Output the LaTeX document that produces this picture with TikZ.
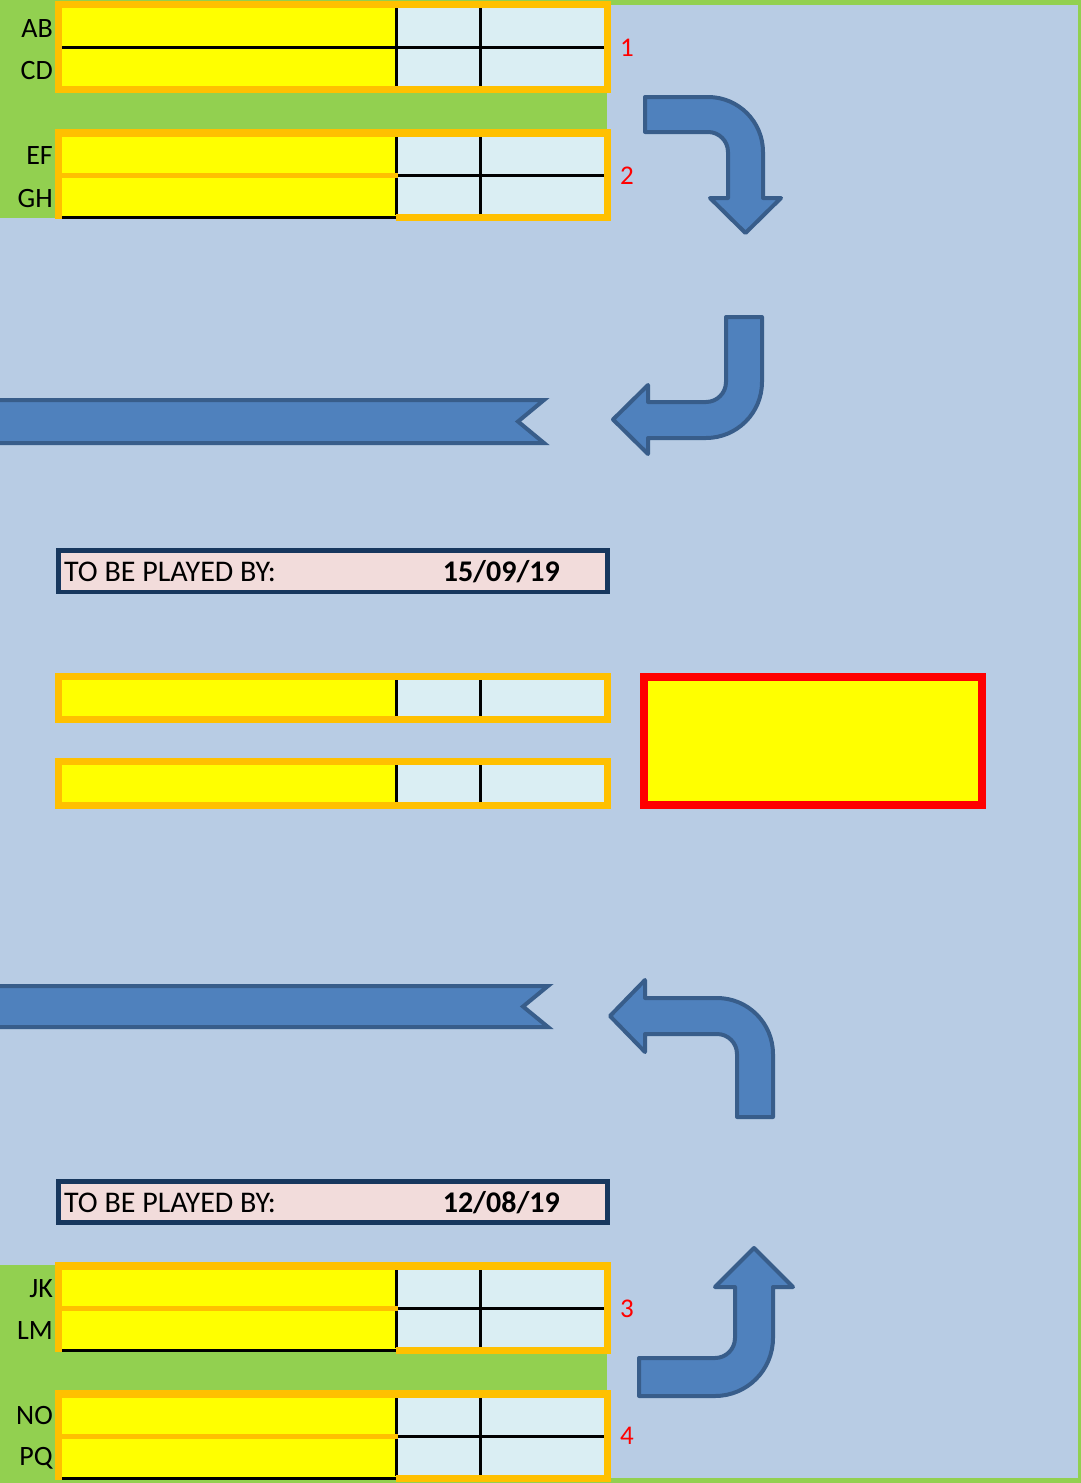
\documentclass[tikz,border=0pt]{standalone}
\usepackage{fontspec}
\setmainfont{Carlito}
\definecolor{bggreen}{HTML}{92D050}
\definecolor{bgblue}{HTML}{B8CCE4}
\definecolor{cellY}{HTML}{FFFF00}
\definecolor{cellB}{HTML}{DAEEF3}
\definecolor{orangeC}{HTML}{FFC000}
\definecolor{navyC}{HTML}{17375E}
\definecolor{pinkC}{HTML}{F2DCDB}
\definecolor{arrowfill}{HTML}{4F81BD}
\definecolor{arrowline}{HTML}{385D8A}
\definecolor{redC}{HTML}{FF0000}
\tikzset{
  blackline/.style={draw=black, line width=3},
  arrowshape/.style={fill=arrowfill, draw=arrowline, line width=4, line join=round},
  ribbon/.style={fill=arrowfill, draw=arrowline, line width=4, line join=miter},
  rowlabel/.style={anchor=base east, inner sep=0pt, font=\fontsize{28}{32}\selectfont},
  numlabel/.style={anchor=base west, inner sep=0pt, text=redC, font=\fontsize{27}{31}\selectfont},
  playedtext/.style={anchor=base west, inner sep=0pt, font=\fontsize{30}{34}\selectfont},
  datetext/.style={anchor=base east, inner sep=0pt, font=\fontsize{30}{34}\selectfont\bfseries},
  playbox/.style={draw=navyC, line width=4.5, fill=pinkC},
}
\newcommand{\tblCells}[2]{%
  \fill[cellY] (62,#1) rectangle (396,#2);
  \fill[cellB] (396,#1) rectangle (604,#2);
  \draw[blackline] (396,#1) -- (396,#2) (480,#1) -- (480,#2);
}
\newcommand{\tblSplit}[1]{%
  \fill[cellY] (62,#1+7) rectangle (396,#1+87);
  \fill[cellB] (396,#1+7) rectangle (604,#1+85);
  \draw[blackline] (396,#1+46) -- (604,#1+46);
  \draw[blackline] (396,#1+7) -- (396,#1+86) (480,#1+7) -- (480,#1+85);
  \fill[orangeC] (55,#1+43.5) rectangle (398,#1+48.5);
  \draw[draw=black, line width=3] (62,#1+88) -- (396,#1+88);
  \fill[orangeC] (55,#1) rectangle (611,#1+7.5);
  \fill[orangeC] (55,#1) rectangle (62,#1+90);
  \fill[orangeC] (604,#1) rectangle (611,#1+92);
  \fill[orangeC] (396,#1+85) rectangle (611,#1+92);
}
\begin{document}
\begin{tikzpicture}[x=1pt,y=-1pt]
\useasboundingbox (0,0) rectangle (1081,1483);
% background
\fill[bggreen] (0,0) rectangle (1081,1483);
\fill[bgblue] (0,5) rectangle (1078,1478);
\fill[bggreen] (0,0) rectangle (607,218);
\fill[bggreen] (0,1265) rectangle (607,1483);

% table 1 (AB / CD)
\tblCells{8}{86}
\draw[blackline] (62,47) -- (604,47);
\draw[orangeC, line width=7] (58.5,4.5) rectangle (607.5,89.5);

% tables 2, 3, 4
\tblSplit{129}
\tblSplit{1262}
\tblSplit{1390}

% row labels
\node[rowlabel] (lab-ab) at (53,37) {AB};
\node[rowlabel] (lab-cd) at (53,79) {CD};
\node[rowlabel] (lab-ef) at (53,164) {EF};
\node[rowlabel] (lab-gh) at (53,207) {GH};
\node[rowlabel] (lab-jk) at (53,1297) {JK};
\node[rowlabel] (lab-lm) at (53,1339) {LM};
\node[rowlabel] (lab-no) at (53,1424) {NO};
\node[rowlabel] (lab-pq) at (53,1465) {PQ};

% red numbers
\node[numlabel] (num-1) at (620,56) {1};
\node[numlabel] (num-2) at (620,184) {2};
\node[numlabel] (num-3) at (620,1317) {3};
\node[numlabel] (num-4) at (620,1444) {4};

% arrow 1: right then down
\draw[arrowshape] (645,97) -- (708,97) arc[start angle=-90, end angle=0, radius=55]
  -- (763,198) -- (781,198) -- (745.5,233) -- (710,198) -- (728,198) -- (728,152)
  arc[start angle=0, end angle=-90, radius=20] -- (645,132) -- cycle;

% arrow 2: down then left
\draw[arrowshape] (726,317) -- (762,317) -- (762,382)
  arc[start angle=0, end angle=90, radius=56] -- (648,438) -- (648,454) -- (613,419.5)
  -- (648,385) -- (648,402) -- (706,402) arc[start angle=90, end angle=0, radius=20] -- cycle;

% arrow 3: up then left
\draw[arrowshape] (645,998) -- (717,998) arc[start angle=-90, end angle=0, radius=56]
  -- (773,1117) -- (737,1117) -- (737,1054) arc[start angle=0, end angle=-90, radius=20]
  -- (645,1034) -- (645,1052) -- (610,1016) -- (645,980) -- cycle;

% arrow 4: right then up
\draw[arrowshape] (639,1358) -- (715,1358) arc[start angle=90, end angle=0, radius=20]
  -- (735,1287) -- (715,1287) -- (754,1248) -- (793,1287) -- (773,1287) -- (773,1338)
  arc[start angle=0, end angle=90, radius=58] -- (639,1396) -- cycle;

% ribbons
\draw[ribbon] (-10,400) -- (544,400) -- (518,421.5) -- (544,443) -- (-10,443) -- cycle;
\draw[ribbon] (-10,986) -- (548,986) -- (523,1006.5) -- (548,1027) -- (-10,1027) -- cycle;

% played-by boxes
\draw[playbox] (58.5,550.5) rectangle (607.5,592);
\node[playedtext] (played-1) at (64,581) {TO BE PLAYED BY:};
\node[datetext] (date-1) at (560,581) {15/09/19};
\draw[playbox] (58.5,1181.5) rectangle (607.5,1222.5);
\node[playedtext] (played-2) at (64,1212) {TO BE PLAYED BY:};
\node[datetext] (date-2) at (560,1212) {12/08/19};

% middle single rows
\tblCells{680}{716}
\draw[orangeC, line width=7] (58.5,676.5) rectangle (607.5,719.5);
\tblCells{765}{802}
\draw[orangeC, line width=7] (58.5,761.5) rectangle (607.5,805.5);

% red box
\draw[draw=redC, fill=cellY, line width=8] (644,677) rectangle (982,805);
\end{tikzpicture}
\end{document}
